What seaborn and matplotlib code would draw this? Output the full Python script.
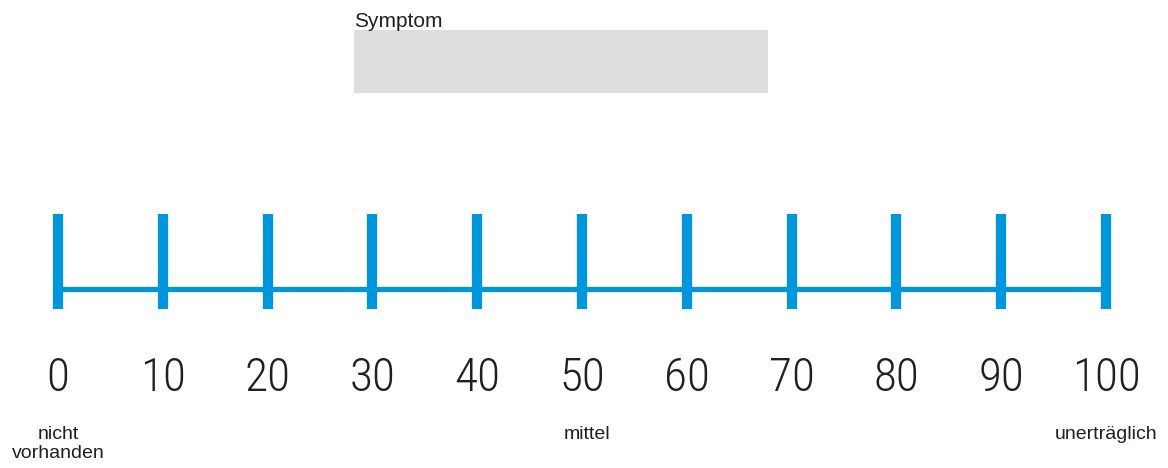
import matplotlib
matplotlib.use('Agg')
import matplotlib.pyplot as plt
import seaborn as sns
import pandas as pd

# Scale values and labels
scale_values = [0, 10, 20, 30, 40, 50, 60, 70, 80, 90, 100]
tick_labels = [str(v) for v in scale_values]
anchor_values = [0, 50, 100]
anchor_labels = ['nicht\nvorhanden', 'mittel', 'unerträglich']
title_text = 'Symptom'

blue = '#0096dc'
dark = '#231f20'

sns.set_theme(style='white')
plt.rcParams['font.family'] = ['Liberation Sans', 'DejaVu Sans']
narrow = ['Roboto Condensed', 'Liberation Sans']

fig = plt.figure(figsize=(11.68, 4.68), dpi=100)
ax = fig.add_axes([0, 0, 1, 1])
# x in scale units (0 -> 58px, 100 -> 1106px), y in pixels from top
px = 10.48
ax.set_xlim(-58 / px, (1168 - 58) / px)
ax.set_ylim(468, 0)
ax.axis('off')

# Horizontal baseline
line_df = pd.DataFrame({'x': [scale_values[0], scale_values[-1]], 'y': [289, 289]})
sns.lineplot(data=line_df, x='x', y='y', ax=ax, color=blue, linewidth=3.8,
             solid_capstyle='butt')

# Vertical tick marks
ax.vlines(scale_values, 214, 309, color=blue, linewidth=7.4)

# Numbers
for v, t in zip(scale_values, tick_labels):
    ax.text(v, 391, t, ha='center', va='baseline', fontsize=34, color=dark,
            family=narrow, fontweight='light')

# Anchor descriptions
for v, t in zip(anchor_values, anchor_labels):
    ax.text(v + (0.5 if t == 'mittel' else 0), 426, t, ha='center', va='top',
            fontsize=14, color=dark, linespacing=1.12)

# Symptom field
ax.add_patch(plt.Rectangle((354 / px - 58 / px, 30), 414 / px, 63,
                           facecolor='#dddddd', edgecolor='none'))
ax.text(354 / px - 58 / px, 27, title_text, ha='left', va='baseline',
        fontsize=15, color=dark)

fig.savefig('out.png', dpi=100)
